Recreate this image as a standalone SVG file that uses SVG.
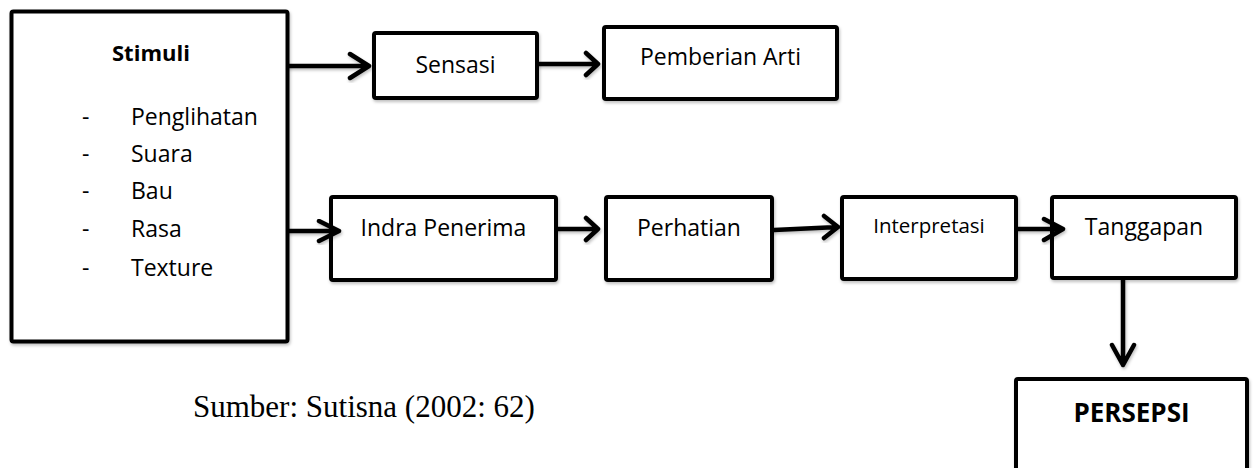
<svg xmlns="http://www.w3.org/2000/svg" width="1257" height="468" viewBox="0 0 1257 468">
  <defs>
    <filter id="shade" x="-10%" y="-10%" width="130%" height="130%">
      <feDropShadow dx="1" dy="2" stdDeviation="1.5" flood-color="#000" flood-opacity="0.25"/>
    </filter>
  </defs>
  <style>
    .box { fill: #fff; stroke: #000; stroke-width: 4; stroke-linejoin: round; filter: url(#shade); }
    .lbl { font-family: "Open Sans", "Liberation Sans", sans-serif; font-size: 23px; fill: #000; }
    .bold { font-weight: bold; }
    .mid { text-anchor: middle; }
    .wire { fill: none; stroke: #000; stroke-width: 4.5; stroke-linecap: round; stroke-linejoin: round; filter: url(#shade); }
    .note { font-family: "Liberation Serif", "Times New Roman", serif; font-size: 31px; fill: #000; }
  </style>

  <!-- Stimuli source box with list of senses -->
  <g id="stimuli">
    <rect class="box" x="11.5" y="11.5" width="276" height="330" rx="2"/>
    <text class="lbl bold" x="112" y="61" style="font-size:22px">Stimuli</text>
    <text class="lbl" x="82" y="125">-</text>
    <text class="lbl" x="131" y="125">Penglihatan</text>
    <text class="lbl" x="82" y="162">-</text>
    <text class="lbl" x="131" y="162">Suara</text>
    <text class="lbl" x="82" y="199">-</text>
    <text class="lbl" x="131" y="199">Bau</text>
    <text class="lbl" x="82" y="237">-</text>
    <text class="lbl" x="131" y="237">Rasa</text>
    <text class="lbl" x="82" y="276">-</text>
    <text class="lbl" x="131" y="276">Texture</text>
  </g>

  <g id="sensasi">
    <rect class="box" x="374" y="33" width="163" height="65" rx="2"/>
    <text class="lbl mid" x="455.5" y="73">Sensasi</text>
  </g>

  <g id="pemberian-arti">
    <rect class="box" x="604" y="27" width="233" height="72" rx="2"/>
    <text class="lbl mid" x="720.5" y="65">Pemberian Arti</text>
  </g>

  <g id="indra-penerima">
    <rect class="box" x="331" y="197" width="225" height="83" rx="2"/>
    <text class="lbl mid" x="443.5" y="236">Indra Penerima</text>
  </g>

  <g id="perhatian">
    <rect class="box" x="606" y="197" width="166" height="83" rx="2"/>
    <text class="lbl mid" x="689" y="236">Perhatian</text>
  </g>

  <g id="interpretasi">
    <rect class="box" x="842" y="197" width="174" height="82" rx="2"/>
    <text class="lbl mid" x="929" y="233" style="font-size:20.5px">Interpretasi</text>
  </g>

  <g id="tanggapan">
    <rect class="box" x="1052" y="197" width="184" height="81" rx="2"/>
    <text class="lbl mid" x="1144" y="235">Tanggapan</text>
  </g>

  <g id="persepsi">
    <rect class="box" x="1016" y="379" width="231" height="110" rx="2"/>
    <text class="lbl bold mid" x="1131.5" y="422" style="font-size:26px">PERSEPSI</text>
  </g>

  <!-- Flow arrows: straight shafts with open chevron heads -->
  <g id="connectors">
    <path class="wire" d="M289 66 H369 M350 54 L369 66 L350 78"/>
    <path class="wire" d="M539 64 H598 M586 53 L598 64 L586 75"/>
    <path class="wire" d="M289 231 H339 M319 221 L339 231 L319 241"/>
    <path class="wire" d="M558 229 H598 M586 218 L598 229 L586 240"/>
    <path class="wire" d="M774 230 L838 227 M824 216 L838 227 L824 238"/>
    <path class="wire" d="M1018 229 H1063 M1044 219 L1063 229 L1044 240"/>
    <path class="wire" d="M1123 280 V365 M1112 345 L1123 365 L1134 345"/>
  </g>

  <text id="source" class="note" x="193" y="417">Sumber: Sutisna (2002: 62)</text>
</svg>
